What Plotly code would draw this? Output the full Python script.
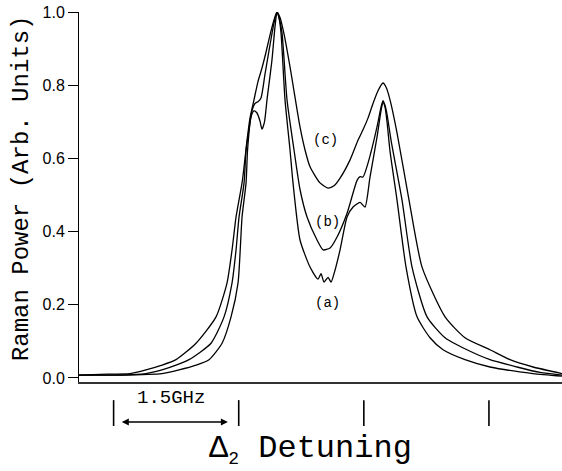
import plotly.graph_objects as go

# Detuning (GHz) and normalized Raman power
x_a = [-3.415, -2.923, -2.420, -2.216, -2.012, -1.856, -1.700, -1.592, -1.508, -1.460,
       -1.412, -1.394, -1.353, -1.317, -1.281, -1.245, -1.221, -1.191, -1.161, -1.101,
       -1.065, -1.041, -1.017, -0.993, -0.945, -0.885, -0.849, -0.765, -0.645, -0.549,
       -0.513, -0.477, -0.429, -0.393, -0.357, -0.285, -0.201, -0.129, -0.045, 0.014,
       0.074, 0.158, 0.206, 0.230, 0.254, 0.278, 0.314, 0.398, 0.506, 0.638,
       0.794, 0.950, 1.213, 1.513, 2.029, 2.376]
y_a = [0.008, 0.008, 0.012, 0.022, 0.035, 0.05, 0.095, 0.167, 0.26, 0.44,
       0.533, 0.623, 0.713, 0.73, 0.724, 0.702, 0.68, 0.70, 0.76, 0.87,
       0.96, 1.0, 0.985, 0.943, 0.76, 0.623, 0.533, 0.377, 0.303, 0.27,
       0.285, 0.262, 0.275, 0.262, 0.285, 0.35, 0.44, 0.467, 0.48, 0.467,
       0.549, 0.658, 0.73, 0.754, 0.74, 0.70, 0.62, 0.486, 0.303, 0.167,
       0.11, 0.077, 0.05, 0.03, 0.012, 0.005]

x_b = [-3.415, -2.923, -2.612, -2.420, -2.252, -2.096, -1.832, -1.676, -1.580, -1.532,
       -1.496, -1.436, -1.412, -1.376, -1.341, -1.305, -1.269, -1.233, -1.185, -1.125,
       -1.077, -1.041, -1.017, -0.981, -0.921, -0.837, -0.765, -0.681, -0.561, -0.489,
       -0.405, -0.321, -0.201, -0.081, -0.045, -0.010, 0.050, 0.158, 0.206, 0.230,
       0.254, 0.278, 0.326, 0.458, 0.578, 0.758, 0.974, 1.237, 1.513, 1.837,
       2.113, 2.376]
y_b = [0.008, 0.008, 0.012, 0.022, 0.035, 0.05, 0.095, 0.167, 0.26, 0.35,
       0.44, 0.533, 0.623, 0.68, 0.73, 0.75, 0.755, 0.765, 0.83, 0.91,
       0.97, 1.0, 0.985, 0.943, 0.76, 0.623, 0.515, 0.44, 0.377, 0.35,
       0.355, 0.385, 0.45, 0.54, 0.55, 0.549, 0.587, 0.686, 0.74, 0.758,
       0.745, 0.72, 0.65, 0.486, 0.303, 0.167, 0.11, 0.077, 0.05, 0.03,
       0.015, 0.008]

x_c = [-3.415, -3.163, -2.803, -2.612, -2.420, -2.252, -2.012, -1.772, -1.640, -1.580,
       -1.532, -1.460, -1.436, -1.400, -1.365, -1.317, -1.269, -1.221, -1.173, -1.125,
       -1.077, -1.041, -1.005, -0.957, -0.885, -0.765, -0.705, -0.645, -0.525, -0.429,
       -0.357, -0.285, -0.165, -0.069, -0.010, 0.050, 0.110, 0.170, 0.230, 0.266,
       0.314, 0.398, 0.542, 0.698, 0.974, 1.213, 1.513, 1.753, 2.029, 2.376]
y_c = [0.008, 0.01, 0.012, 0.022, 0.035, 0.05, 0.095, 0.167, 0.26, 0.35,
       0.44, 0.533, 0.577, 0.65, 0.71, 0.76, 0.81, 0.847, 0.89, 0.937,
       0.978, 1.0, 0.985, 0.94, 0.85, 0.686, 0.623, 0.577, 0.533, 0.519,
       0.525, 0.546, 0.596, 0.65, 0.678, 0.71, 0.75, 0.785, 0.806, 0.795,
       0.76, 0.67, 0.486, 0.303, 0.167, 0.11, 0.077, 0.05, 0.03, 0.012]

y_ticks = [0.0, 0.2, 0.4, 0.6, 0.8, 1.0]
y_ticklabels = ["0.0", "0.2", "0.4", "0.6", "0.8", "1.0"]
scale_marks = [-3.0, -1.5, 0.0, 1.5]  # GHz
curve_labels = [("(a)", -0.441, 0.205), ("(b)", -0.441, 0.426), ("(c)", -0.465, 0.65)]

MONO = "Liberation Mono"

fig = go.Figure()
for xs, ys in [(x_a, y_a), (x_b, y_b), (x_c, y_c)]:
    fig.add_trace(go.Scatter(x=xs, y=ys, mode="lines",
                             line=dict(color="black", width=1.3, shape="spline", smoothing=0.6),
                             showlegend=False, hoverinfo="skip"))

for text, lx, ly in curve_labels:
    fig.add_annotation(x=lx, y=ly, xref="x", yref="y", text=text, showarrow=False,
                       xanchor="center", yanchor="middle",
                       font=dict(family=MONO, size=14, color="black"))

for m in scale_marks:
    fig.add_shape(type="line", xref="x", yref="paper", x0=m, x1=m, y0=-0.049, y1=-0.119,
                  line=dict(color="black", width=1.6))

fig.add_annotation(x=-1.63, y=-0.108, xref="x", yref="paper", ax=-2.92, ay=0,
                   axref="x", ayref="pixel", text="", showarrow=True,
                   arrowhead=2, startarrowhead=2, arrowside="end+start",
                   arrowsize=1, arrowwidth=1.4, arrowcolor="black")
fig.add_annotation(x=-2.31, y=-0.043, xref="x", yref="paper", text="1.5GHz",
                   showarrow=False, xanchor="center", yanchor="middle",
                   font=dict(family=MONO, size=19, color="black"))

fig.add_annotation(x=0.48, y=-0.182, xref="paper", yref="paper",
                   text="Δ<sub><span style='font-size:18px'>2</span></sub> Detuning",
                   showarrow=False, xanchor="center", yanchor="middle",
                   font=dict(family=MONO, size=32, color="black"))
fig.add_annotation(x=-0.12, y=0.524, xref="paper", yref="paper", textangle=-90,
                   text="Raman Power (Arb. Units)", showarrow=False,
                   xanchor="center", yanchor="middle",
                   font=dict(family=MONO, size=24, color="black"))

fig.update_layout(
    width=562, height=471,
    margin=dict(l=79, r=0, t=12, b=89, autoexpand=False),
    paper_bgcolor="white", plot_bgcolor="white",
    xaxis=dict(range=[-3.415, 2.376], showgrid=False, zeroline=False,
               showticklabels=False, ticks="", showline=True, automargin=False,
               linecolor="#333333", linewidth=2),
    yaxis=dict(range=[-0.011, 1.0], showgrid=False, zeroline=False, automargin=False,
               tickvals=y_ticks, ticktext=y_ticklabels, ticks="outside",
               ticklen=10, tickwidth=1, tickcolor="black",
               showline=True, linecolor="black", linewidth=1,
               tickfont=dict(family="Liberation Sans", size=16, color="black")),
)

fig.write_html("out.html", config={"displayModeBar": False},
               post_script="document.body.style.margin='0px';document.body.style.overflow='hidden';")
